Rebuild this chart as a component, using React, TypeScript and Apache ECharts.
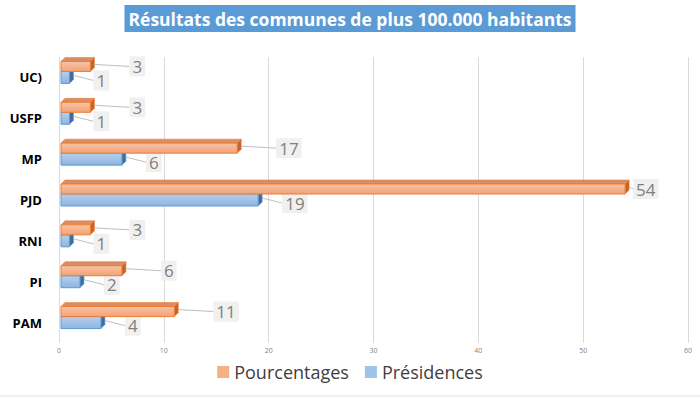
import { useEffect, useRef } from 'react'
import * as echarts from 'echarts'

// catégories de haut en bas
const parties = ['UC)', 'USFP', 'MP', 'PJD', 'RNI', 'PI', 'PAM']
const pourcentages = [3, 3, 17, 54, 3, 6, 11]
const presidences = [1, 1, 6, 19, 1, 2, 4]
const xTicks = [0, 60, 10]

const FONT = '"Open Sans", "Noto Sans", sans-serif'
const DEPTH = 4

interface BarStyle {
  front: string[]
  border: string
  top: string
  side: string
  y0: number
  y1: number
  labelDy: number
  gap: number
}

const orange: BarStyle = {
  front: ['#f8c3a4', '#f3a277'],
  border: '#ed7d31',
  top: '#d98d66',
  side: '#c5652c',
  y0: -16,
  y1: -6,
  labelDy: -11,
  gap: 35,
}

const blue: BarStyle = {
  front: ['#b4d0ee', '#8fb4e0'],
  border: '#5b9bd5',
  top: '#7fa7d6',
  side: '#3e6da6',
  y0: -6,
  y1: 6,
  labelDy: 3,
  gap: 20,
}

function renderBar(s: BarStyle) {
  return (_params: any, api: any) => {
    const val = api.value(0)
    const cat = api.value(1)
    const [xe, cy] = api.coord([val, cat])
    const [x0] = api.coord([0, cat])
    const xs = x0 + 2
    const top = cy + s.y0
    const bot = cy + s.y1
    const d = DEPTH
    // étiquette rapprochée quand la barre touche le bord droit
    let lx = xe + d + s.gap
    if (lx + 30 > 670) lx = xe + d + 4
    const ly = cy + s.labelDy
    return {
      type: 'group',
      children: [
        {
          type: 'polygon',
          shape: { points: [[xs, top], [xe, top], [xe + d, top - d], [xs + d, top - d]] },
          style: { fill: s.top, stroke: s.border, lineWidth: 0.6 },
        },
        {
          type: 'polygon',
          shape: { points: [[xe, top], [xe + d, top - d], [xe + d, bot - d], [xe, bot]] },
          style: { fill: s.side, stroke: s.border, lineWidth: 0.6 },
        },
        {
          type: 'rect',
          shape: { x: xs, y: top, width: xe - xs, height: bot - top },
          style: {
            fill: new echarts.graphic.LinearGradient(0, 0, 0, 1, [
              { offset: 0, color: s.front[0] },
              { offset: 1, color: s.front[1] },
            ]),
            stroke: s.border,
            lineWidth: 1,
          },
        },
        {
          type: 'line',
          shape: { x1: xe + d, y1: (top + bot) / 2 - d / 2, x2: lx, y2: ly },
          style: { stroke: '#bfbfbf', lineWidth: 1 },
        },
        {
          type: 'text',
          x: lx,
          y: ly,
          style: {
            text: String(val),
            fill: '#7f7f7f',
            font: `17px ${FONT}`,
            backgroundColor: '#f0f0f0',
            padding: [2, 3, 1, 3],
            align: 'left',
            verticalAlign: 'middle',
          },
        },
      ],
    }
  }
}

export default function App() {
  const ref = useRef<HTMLDivElement>(null)

  useEffect(() => {
    if (!ref.current) return
    const chart = echarts.init(ref.current, undefined, { renderer: 'svg' })
    chart.setOption({
      animation: false,
      backgroundColor: '#ffffff',
      title: {
        text: 'Résultats des communes de plus 100.000 habitants',
        left: 'center',
        top: 5,
        backgroundColor: '#5b9bd5',
        padding: [5, 4, 4, 4],
        textStyle: { color: '#ffffff', fontSize: 17.5, fontWeight: 'bold', fontFamily: FONT },
      },
      legend: {
        bottom: 14,
        left: 'center',
        icon: 'rect',
        itemWidth: 12,
        itemHeight: 12,
        itemGap: 16,
        textStyle: { color: '#404040', fontSize: 18, fontFamily: FONT },
        data: ['Pourcentages', 'Présidences'],
      },
      grid: { left: 59, right: 12, top: 57, bottom: 57 },
      xAxis: {
        type: 'value',
        min: xTicks[0],
        max: xTicks[1],
        interval: xTicks[2],
        axisLine: { show: false },
        axisTick: { show: false },
        splitLine: { lineStyle: { color: '#d9d9d9' } },
        axisLabel: { fontSize: 7, color: '#7f7f7f', margin: 4, fontFamily: FONT },
      },
      yAxis: {
        type: 'category',
        data: parties,
        inverse: true,
        axisLine: { show: false },
        axisTick: { show: false },
        axisLabel: { fontSize: 13, fontWeight: 'bold', color: '#000000', margin: 17, fontFamily: FONT },
      },
      series: [
        {
          name: 'Pourcentages',
          type: 'custom',
          z: 3,
          itemStyle: { color: '#f4b183', borderColor: '#ed7d31' },
          encode: { x: 0, y: 1 },
          data: pourcentages.map((v, i) => [v, i]),
          renderItem: renderBar(orange),
        },
        {
          name: 'Présidences',
          type: 'custom',
          z: 2,
          itemStyle: { color: '#9dc3e6', borderColor: '#5b9bd5' },
          encode: { x: 0, y: 1 },
          data: presidences.map((v, i) => [v, i]),
          renderItem: renderBar(blue),
        },
      ],
      graphic: [
        {
          type: 'line',
          shape: { x1: 0, y1: 396, x2: 700, y2: 396 },
          style: { stroke: '#e0e0e0', lineWidth: 1 },
          silent: true,
        },
      ],
    })
    return () => chart.dispose()
  }, [])

  return (
    <div
      ref={ref}
      style={{ position: 'fixed', left: 0, top: 0, width: 700, height: 400 }}
    />
  )
}
